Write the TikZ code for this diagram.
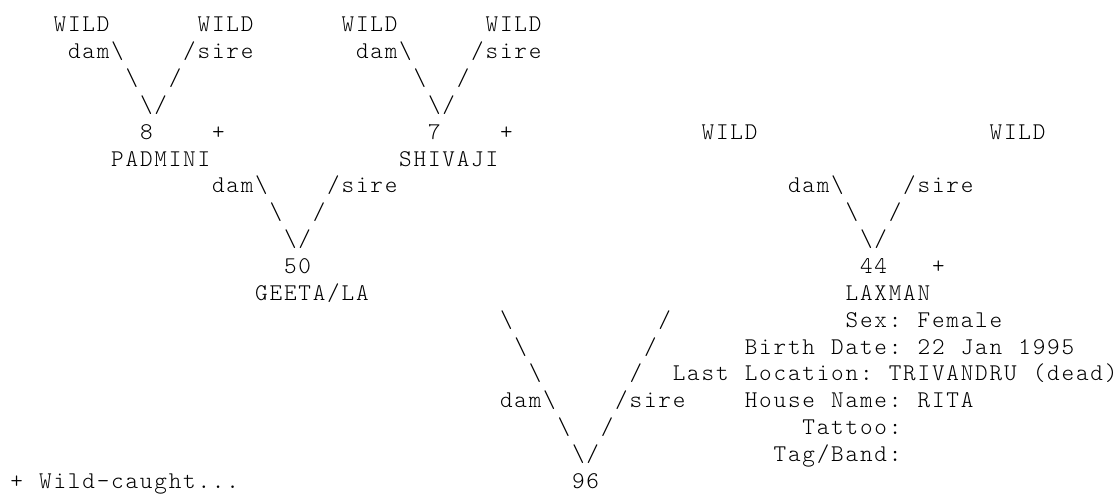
\documentclass[tikz,border=0pt]{standalone}
\usepackage{fontspec}
\usepackage{tikz}
\newfontfamily\asciifont{lmmonolt10-regular}[Extension=.otf]
\newlength\cellw
\setlength\cellw{14.4pt}
\makeatletter
\newcommand\mono[1]{\@tfor\mono@c:=#1\do{\makebox[\cellw][c]{\mono@c}}}
\makeatother
\newcommand\bsl{\textbackslash}
\tikzset{
  txt/.style   = {anchor=base west, inner sep=0pt, outer sep=0pt,
                  font=\asciifont\fontsize{24pt}{27pt}\selectfont},
}
\begin{document}
\begin{tikzpicture}[x=14.4pt, y=-26.86pt]
  \useasboundingbox (-9.5pt,31.7pt) rectangle (1109.5pt,-463.3pt);
  % ---- PADMINI and her wild parents
  \node[txt] (wild-a)   at (3,0)  {\mono{WILD}};
  \node[txt] (wild-b)   at (13,0) {\mono{WILD}};
  \node[txt] (dam-pad)  at (4,1)  {\mono{dam\bsl}};
  \node[txt] (sire-pad) at (12,1) {\mono{/sire}};
  \node[txt] (leg-pad)  at (8,2)  {\mono{\bsl~~/}};
  \node[txt] (v-pad)    at (9,3)  {\mono{\bsl/}};
  \node[txt] (no-pad)   at (9,4)  {\mono{8}};
  \node[txt] (wc-pad)   at (14,4) {\mono{+}};
  \node[txt] (padmini)  at (7,5)  {\mono{PADMINI}};
  % ---- SHIVAJI and his wild parents
  \node[txt] (wild-c)   at (23,0) {\mono{WILD}};
  \node[txt] (wild-d)   at (33,0) {\mono{WILD}};
  \node[txt] (dam-shi)  at (24,1) {\mono{dam\bsl}};
  \node[txt] (sire-shi) at (32,1) {\mono{/sire}};
  \node[txt] (leg-shi)  at (28,2) {\mono{\bsl~~/}};
  \node[txt] (v-shi)    at (29,3) {\mono{\bsl/}};
  \node[txt] (no-shi)   at (29,4) {\mono{7}};
  \node[txt] (wc-shi)   at (34,4) {\mono{+}};
  \node[txt] (shivaji)  at (27,5) {\mono{SHIVAJI}};
  % ---- GEETA/LA
  \node[txt] (dam-gee)  at (14,6) {\mono{dam\bsl}};
  \node[txt] (sire-gee) at (22,6) {\mono{/sire}};
  \node[txt] (leg-gee)  at (18,7) {\mono{\bsl~~/}};
  \node[txt] (v-gee)    at (19,8) {\mono{\bsl/}};
  \node[txt] (no-gee)   at (19,9) {\mono{50}};
  \node[txt] (geeta)    at (17,10) {\mono{GEETA/LA}};
  % ---- LAXMAN and the record
  \node[txt] (wild-e)   at (48,4) {\mono{WILD}};
  \node[txt] (wild-f)   at (68,4) {\mono{WILD}};
  \node[txt] (dam-lax)  at (54,6) {\mono{dam\bsl}};
  \node[txt] (sire-lax) at (62,6) {\mono{/sire}};
  \node[txt] (leg-lax)  at (58,7) {\mono{\bsl~~/}};
  \node[txt] (v-lax)    at (59,8) {\mono{\bsl/}};
  \node[txt] (no-lax)   at (59,9) {\mono{44}};
  \node[txt] (wc-lax)   at (64,9) {\mono{+}};
  \node[txt] (laxman)   at (58,10) {\mono{LAXMAN}};
  \node[txt] (sex)      at (58,11) {\mono{Sex:~Female}};
  \node[txt] (birth)    at (51,12) {\mono{Birth~Date:~22~Jan~1995}};
  \node[txt] (loc)      at (46,13) {\mono{Last~Location:~TRIVANDRU~(dead)}};
  \node[txt] (house)    at (51,14) {\mono{House~Name:~RITA}};
  \node[txt] (tattoo)   at (55,15) {\mono{Tattoo:}};
  \node[txt] (tag)      at (53,16) {\mono{Tag/Band:}};
  % ---- 96
  \node[txt] (l1)       at (34,11) {\mono{\bsl}};
  \node[txt] (r1)       at (45,11) {\mono{/}};
  \node[txt] (l2)       at (35,12) {\mono{\bsl}};
  \node[txt] (r2)       at (44,12) {\mono{/}};
  \node[txt] (l3)       at (36,13) {\mono{\bsl}};
  \node[txt] (r3)       at (43,13) {\mono{/}};
  \node[txt] (dam-96)   at (34,14) {\mono{dam\bsl}};
  \node[txt] (sire-96)  at (42,14) {\mono{/sire}};
  \node[txt] (leg-96)   at (38,15) {\mono{\bsl~~/}};
  \node[txt] (v-96)     at (39,16) {\mono{\bsl/}};
  \node[txt] (no-96)    at (39,17) {\mono{96}};
  % ---- footnote
  \node[txt] (note)     at (0,17) {\mono{+~Wild-caught...}};
\end{tikzpicture}
\end{document}
